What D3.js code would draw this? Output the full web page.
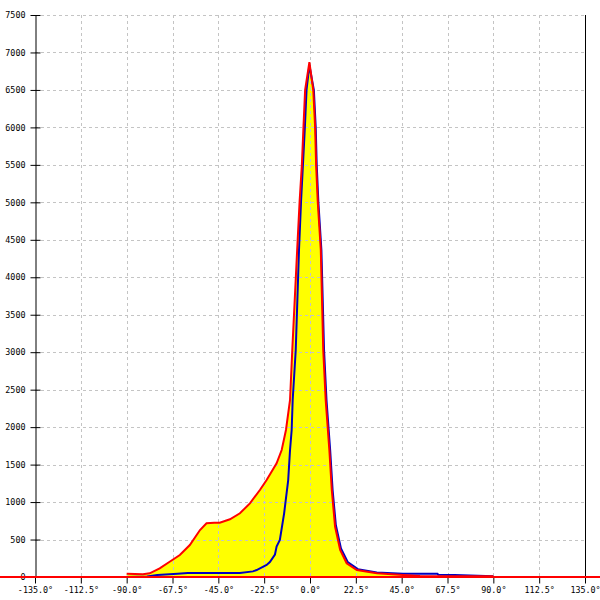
<!DOCTYPE html>
<html>
<head>
<meta charset="utf-8">
<script src="https://cdn.jsdelivr.net/npm/d3@7"></script>
<style>
  html, body { margin: 0; padding: 0; background: #ffffff; }
  svg { display: block; }
  text { font-family: "DejaVu Sans Mono", monospace; font-size: 8.4px; fill: #000; }
</style>
</head>
<body>
<div id="chart"></div>
<script>
// ---- data ----
const xTicks = [-135, -112.5, -90, -67.5, -45, -22.5, 0, 22.5, 45, 67.5, 90, 112.5, 135];
const yTicks = [0, 500, 1000, 1500, 2000, 2500, 3000, 3500, 4000, 4500, 5000, 5500, 6000, 6500, 7000, 7500];

const redAngles = [-90, -86, -82, -78.7, -73.8, -68.9, -63.9, -59, -54, -50.8, -47, -44.3, -39.3, -34.4, -29.5, -24.6, -21.3, -16.4, -13.9, -11.8, -9.8, -8.7, -6.3, -5.1, -4.0, -3.2, -2.4, -0.3, 1.6, 2.5, 3.0, 3.8, 5.3, 6.5, 7.7, 9.5, 10.7, 12.3, 14.8, 18, 23, 32.8, 45.7, 54, 90];
const redValues = [45, 40, 36, 49, 116, 204, 294, 427, 627, 717, 725, 725, 770, 850, 983, 1161, 1294, 1517, 1695, 1962, 2362, 3029, 4364, 5009, 5498, 6009, 6499, 6870, 6499, 6009, 5498, 5009, 4364, 3029, 2362, 1695, 1161, 671, 360, 183, 93, 49, 27, 13, 10];

const blueAngles = [-90, -80, -75, -65, -60, -34.4, -28, -26.2, -21.3, -19.7, -17.2, -16.4, -14.8, -12.7, -10.7, -9.8, -9.0, -8.5, -7.0, -5.4, -4.4, -2.5, -1.7, -0.3, 1.9, 2.8, 3.3, 4.1, 5.6, 6.9, 8.1, 9.9, 11.1, 12.7, 15.2, 18.5, 23.5, 32.8, 45.7, 62.5, 63, 71, 90];
const blueValues = [0, 8, 27, 45, 53, 53, 75, 93, 160, 200, 300, 405, 494, 850, 1294, 1695, 1962, 2362, 3029, 4364, 5009, 6009, 6499, 6830, 6499, 6009, 5498, 5009, 4364, 3029, 2362, 1695, 1161, 690, 380, 200, 105, 60, 45, 45, 30, 28, 10];

// ---- layout ----
const W = 600, H = 600;
const svg = d3.select("#chart").append("svg").attr("width", W).attr("height", H);

const x = d3.scaleLinear().domain([-135, 135]).range([35, 585]);
const y = d3.scaleLinear().domain([0, 7500]).range([577, 15]);

const red = redAngles.map((a, i) => ({a, v: redValues[i]}));
const blue = blueAngles.map((a, i) => ({a, v: blueValues[i]}));

// fill under red
svg.append("path")
  .datum(red)
  .attr("fill", "#ffff00")
  .attr("d", d3.area().x(d => x(d.a)).y0(y(0)).y1(d => y(d.v)));

// grid
const grid = svg.append("g").attr("stroke", "#c4c4c4").attr("stroke-dasharray", "3,3").attr("stroke-width", 1);
grid.selectAll("line.v").data(xTicks.filter(t => t > -135 && t < 135)).enter().append("line")
  .attr("x1", d => Math.round(x(d)) + 0.5).attr("x2", d => Math.round(x(d)) + 0.5)
  .attr("y1", y(7500)).attr("y2", y(0));
grid.selectAll("line.h").data(yTicks.filter(t => t > 0)).enter().append("line")
  .attr("y1", d => Math.round(y(d)) + 0.5).attr("y2", d => Math.round(y(d)) + 0.5)
  .attr("x1", x(-135)).attr("x2", x(135));

// axes
const yAxis = d3.axisLeft(y).tickValues(yTicks).tickSizeInner(5).tickSizeOuter(0).tickPadding(4).tickFormat(d => d);
const gy = svg.append("g").attr("transform", `translate(${Math.round(x(-135)) + 0.5},0)`).call(yAxis);
gy.select(".domain").attr("stroke", "#000");
gy.selectAll(".tick line").attr("x2", 5).attr("x1", -5).attr("stroke", "#000");
gy.selectAll(".tick text").attr("x", -10).style("font-family", "DejaVu Sans Mono").style("font-size", "8.4px");

const xAxis = d3.axisBottom(x).tickValues(xTicks).tickSizeInner(6).tickSizeOuter(0).tickPadding(4)
  .tickFormat(d => d.toFixed(1) + "°");
const gx = svg.append("g").attr("transform", `translate(0,${Math.round(y(0)) + 0.5})`).call(xAxis);
gx.select(".domain").remove();
gx.selectAll(".tick line").attr("stroke", "#000");
gx.selectAll(".tick text").style("font-family", "DejaVu Sans Mono").style("font-size", "8.4px");

// right border
svg.append("line")
  .attr("x1", Math.round(x(135)) + 0.5).attr("x2", Math.round(x(135)) + 0.5)
  .attr("y1", y(7500)).attr("y2", y(0))
  .attr("stroke", "#000");

// lines
const line = d3.line().x(d => x(d.a)).y(d => y(d.v));
svg.append("path").datum(blue).attr("fill", "none").attr("stroke", "#0000c0").attr("stroke-width", 2).attr("d", line);
svg.append("path").datum(red).attr("fill", "none").attr("stroke", "#ff0000").attr("stroke-width", 2).attr("d", line);

// red baseline across the full width
svg.append("line")
  .attr("x1", 0).attr("x2", W)
  .attr("y1", y(0)).attr("y2", y(0))
  .attr("stroke", "#ff0000").attr("stroke-width", 2);
</script>
</body>
</html>
